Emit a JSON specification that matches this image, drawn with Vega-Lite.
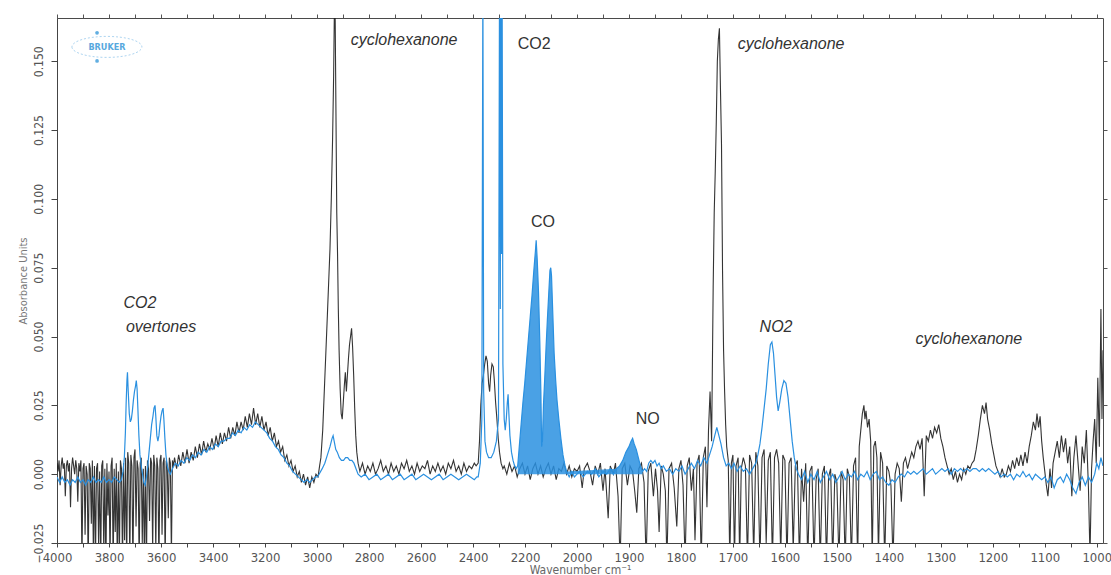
{
  "$schema": "https://vega.github.io/schema/vega-lite/v6.json",
  "width": 1046,
  "height": 525,
  "autosize": {"type": "none"},
  "padding": {"left": 57, "top": 18, "right": 8, "bottom": 32},
  "background": "white",
  "config": {
    "view": {"stroke": "#4a4a4a", "strokeWidth": 1},
    "axis": {"grid": false}
  },
  "datasets": {
    "black": [
      {"w":4000,"a":0.004},{"w":3996,"a":0.001},{"w":3992,"a":0.005},{"w":3988,"a":-0.004},{"w":3984,"a":0.003},{"w":3980,"a":0.006},{"w":3976,"a":0.002},{"w":3972,"a":0.004},{"w":3968,"a":-0.008},{"w":3964,"a":0.003},{"w":3960,"a":0.005},{"w":3956,"a":0.001},{"w":3952,"a":0.004},{"w":3948,"a":-0.012},{"w":3944,"a":0.002},{"w":3940,"a":0.006},{"w":3936,"a":0.003},{"w":3932,"a":0.000},{"w":3928,"a":0.005},{"w":3924,"a":0.002},{"w":3920,"a":-0.010},{"w":3916,"a":0.004},{"w":3912,"a":0.001},{"w":3908,"a":0.005},{"w":3904,"a":-0.032},{"w":3900,"a":0.002},{"w":3896,"a":0.004},{"w":3892,"a":-0.022},{"w":3888,"a":0.003},{"w":3884,"a":0.000},{"w":3880,"a":-0.034},{"w":3876,"a":0.004},{"w":3872,"a":0.002},{"w":3868,"a":-0.018},{"w":3864,"a":0.005},{"w":3860,"a":-0.030},{"w":3856,"a":0.003},{"w":3852,"a":-0.032},{"w":3848,"a":0.002},{"w":3844,"a":0.004},{"w":3840,"a":-0.026},{"w":3836,"a":0.001},{"w":3832,"a":-0.034},{"w":3828,"a":0.003},{"w":3824,"a":0.005},{"w":3820,"a":-0.030},{"w":3816,"a":0.002},{"w":3812,"a":-0.035},{"w":3808,"a":0.004},{"w":3804,"a":-0.015},{"w":3800,"a":0.001},{"w":3796,"a":-0.032},{"w":3792,"a":0.003},{"w":3788,"a":0.006},{"w":3784,"a":-0.034},{"w":3780,"a":0.002},{"w":3776,"a":-0.021},{"w":3772,"a":0.004},{"w":3768,"a":-0.033},{"w":3764,"a":0.001},{"w":3760,"a":-0.030},{"w":3756,"a":0.005},{"w":3752,"a":0.002},{"w":3748,"a":-0.034},{"w":3744,"a":0.004},{"w":3740,"a":-0.024},{"w":3736,"a":0.006},{"w":3732,"a":-0.033},{"w":3728,"a":0.008},{"w":3724,"a":0.004},{"w":3720,"a":-0.032},{"w":3716,"a":0.007},{"w":3712,"a":0.003},{"w":3708,"a":-0.035},{"w":3704,"a":0.006},{"w":3700,"a":0.009},{"w":3696,"a":-0.019},{"w":3692,"a":0.005},{"w":3688,"a":0.002},{"w":3684,"a":-0.033},{"w":3680,"a":0.004},{"w":3676,"a":0.006},{"w":3672,"a":-0.025},{"w":3668,"a":0.002},{"w":3664,"a":-0.031},{"w":3660,"a":0.003},{"w":3656,"a":-0.034},{"w":3652,"a":0.005},{"w":3648,"a":0.002},{"w":3644,"a":-0.017},{"w":3640,"a":0.006},{"w":3636,"a":0.004},{"w":3632,"a":-0.028},{"w":3628,"a":0.007},{"w":3624,"a":0.003},{"w":3620,"a":-0.028},{"w":3616,"a":0.006},{"w":3612,"a":0.002},{"w":3608,"a":-0.034},{"w":3604,"a":0.005},{"w":3600,"a":0.007},{"w":3596,"a":-0.022},{"w":3592,"a":0.004},{"w":3588,"a":0.006},{"w":3584,"a":-0.033},{"w":3580,"a":0.005},{"w":3576,"a":0.003},{"w":3572,"a":-0.016},{"w":3568,"a":0.006},{"w":3564,"a":0.004},{"w":3560,"a":-0.030},{"w":3556,"a":0.005},{"w":3552,"a":0.003},
      {"w":3548,"a":0.006},{"w":3540,"a":0.002},{"w":3532,"a":0.007},{"w":3524,"a":0.003},{"w":3516,"a":0.008},{"w":3508,"a":0.004},{"w":3500,"a":0.009},{"w":3492,"a":0.004},{"w":3484,"a":0.008},{"w":3476,"a":0.005},{"w":3468,"a":0.010},{"w":3460,"a":0.006},{"w":3452,"a":0.011},{"w":3444,"a":0.007},{"w":3436,"a":0.012},{"w":3428,"a":0.008},{"w":3420,"a":0.011},{"w":3412,"a":0.009},{"w":3404,"a":0.013},{"w":3396,"a":0.009},{"w":3388,"a":0.014},{"w":3380,"a":0.010},{"w":3372,"a":0.015},{"w":3364,"a":0.011},{"w":3356,"a":0.015},{"w":3348,"a":0.012},{"w":3340,"a":0.017},{"w":3332,"a":0.013},{"w":3324,"a":0.017},{"w":3316,"a":0.014},{"w":3308,"a":0.019},{"w":3300,"a":0.015},{"w":3292,"a":0.019},{"w":3284,"a":0.016},{"w":3276,"a":0.021},{"w":3268,"a":0.017},{"w":3260,"a":0.022},{"w":3252,"a":0.018},{"w":3244,"a":0.024},{"w":3236,"a":0.018},{"w":3228,"a":0.022},{"w":3220,"a":0.017},{"w":3212,"a":0.021},{"w":3204,"a":0.016},{"w":3196,"a":0.019},{"w":3188,"a":0.014},{"w":3180,"a":0.017},{"w":3172,"a":0.012},{"w":3164,"a":0.015},{"w":3156,"a":0.010},{"w":3148,"a":0.012},{"w":3140,"a":0.008},{"w":3132,"a":0.010},{"w":3124,"a":0.005},{"w":3116,"a":0.007},{"w":3108,"a":0.003},{"w":3100,"a":0.005},{"w":3092,"a":0.001},{"w":3084,"a":0.003},{"w":3076,"a":-0.001},{"w":3068,"a":0.001},{"w":3060,"a":-0.003},{"w":3052,"a":0.000},{"w":3044,"a":-0.004},{"w":3036,"a":-0.001},{"w":3028,"a":-0.005},{"w":3020,"a":-0.001},{"w":3012,"a":-0.003},{"w":3004,"a":0.000},{"w":2996,"a":-0.001},{"w":2990,"a":0.003},
      {"w":2985,"a":0.006},{"w":2978,"a":0.016},{"w":2972,"a":0.030},{"w":2966,"a":0.044},{"w":2960,"a":0.058},{"w":2955,"a":0.070},{"w":2950,"a":0.082},{"w":2945,"a":0.100},{"w":2940,"a":0.122},{"w":2936,"a":0.145},{"w":2933,"a":0.170},{"w":2930,"a":0.165},{"w":2927,"a":0.130},{"w":2924,"a":0.095},{"w":2921,"a":0.080},{"w":2918,"a":0.060},{"w":2915,"a":0.045},{"w":2911,"a":0.031},{"w":2907,"a":0.022},{"w":2903,"a":0.020},{"w":2899,"a":0.026},{"w":2895,"a":0.032},{"w":2891,"a":0.037},{"w":2887,"a":0.030},{"w":2883,"a":0.036},{"w":2879,"a":0.042},{"w":2875,"a":0.047},{"w":2871,"a":0.050},{"w":2867,"a":0.053},{"w":2863,"a":0.046},{"w":2859,"a":0.036},{"w":2855,"a":0.024},{"w":2851,"a":0.014},{"w":2847,"a":0.008},{"w":2842,"a":0.004},
      {"w":2835,"a":0.001},{"w":2825,"a":0.004},{"w":2815,"a":0.000},{"w":2805,"a":0.003},{"w":2795,"a":0.001},{"w":2785,"a":0.004},{"w":2775,"a":0.000},{"w":2765,"a":0.002},{"w":2755,"a":0.005},{"w":2745,"a":0.001},{"w":2735,"a":0.003},{"w":2725,"a":0.000},{"w":2715,"a":0.004},{"w":2705,"a":0.001},{"w":2695,"a":0.003},{"w":2685,"a":0.000},{"w":2675,"a":0.004},{"w":2665,"a":0.002},{"w":2655,"a":0.005},{"w":2645,"a":0.001},{"w":2635,"a":0.003},{"w":2625,"a":0.000},{"w":2615,"a":0.004},{"w":2605,"a":0.001},{"w":2595,"a":0.003},{"w":2585,"a":0.002},{"w":2575,"a":0.005},{"w":2565,"a":0.000},{"w":2555,"a":0.003},{"w":2545,"a":0.001},{"w":2535,"a":0.004},{"w":2525,"a":0.001},{"w":2515,"a":0.003},{"w":2505,"a":0.000},{"w":2495,"a":0.004},{"w":2485,"a":0.002},{"w":2475,"a":0.005},{"w":2465,"a":0.001},{"w":2455,"a":0.003},{"w":2445,"a":0.000},{"w":2435,"a":0.004},{"w":2425,"a":0.001},{"w":2415,"a":0.003},{"w":2405,"a":0.002},{"w":2395,"a":0.004},{"w":2388,"a":0.003},
      {"w":2380,"a":0.004},{"w":2375,"a":0.012},{"w":2370,"a":0.025},{"w":2365,"a":0.033},{"w":2360,"a":0.036},{"w":2355,"a":0.040},{"w":2350,"a":0.043},{"w":2345,"a":0.041},{"w":2340,"a":0.033},{"w":2336,"a":0.030},{"w":2332,"a":0.036},{"w":2327,"a":0.040},{"w":2322,"a":0.039},{"w":2318,"a":0.034},{"w":2313,"a":0.026},{"w":2308,"a":0.020},{"w":2303,"a":0.013},{"w":2298,"a":0.008},{"w":2292,"a":0.004},{"w":2285,"a":0.002},
      {"w":2280,"a":0.003},{"w":2270,"a":0.000},{"w":2260,"a":0.004},{"w":2250,"a":0.001},{"w":2240,"a":0.003},{"w":2230,"a":-0.001},{"w":2220,"a":0.002},{"w":2210,"a":0.004},{"w":2200,"a":0.000},{"w":2190,"a":0.003},{"w":2180,"a":-0.002},{"w":2170,"a":0.002},{"w":2160,"a":0.004},{"w":2150,"a":0.000},{"w":2140,"a":0.003},{"w":2130,"a":-0.001},{"w":2120,"a":0.002},{"w":2110,"a":0.004},{"w":2100,"a":0.000},{"w":2090,"a":0.003},{"w":2080,"a":-0.002},{"w":2070,"a":0.002},{"w":2060,"a":0.001},{"w":2050,"a":0.004},{"w":2040,"a":0.000},{"w":2030,"a":0.003},{"w":2020,"a":-0.001},{"w":2010,"a":0.002},{"w":2000,"a":0.001},
      {"w":1995,"a":0.003},{"w":1990,"a":-0.005},{"w":1986,"a":0.002},{"w":1980,"a":0.004},{"w":1975,"a":0.001},{"w":1970,"a":-0.004},{"w":1965,"a":0.003},{"w":1960,"a":0.000},{"w":1955,"a":0.004},{"w":1950,"a":-0.006},{"w":1946,"a":0.002},{"w":1940,"a":-0.016},{"w":1936,"a":0.003},{"w":1930,"a":0.000},{"w":1926,"a":0.004},{"w":1921,"a":-0.008},{"w":1917,"a":-0.032},{"w":1913,"a":0.002},{"w":1908,"a":0.004},{"w":1903,"a":-0.004},{"w":1898,"a":0.003},{"w":1893,"a":0.001},{"w":1889,"a":-0.006},{"w":1885,"a":-0.014},{"w":1881,"a":0.002},{"w":1876,"a":0.004},{"w":1871,"a":-0.003},{"w":1867,"a":-0.032},{"w":1863,"a":0.001},{"w":1858,"a":0.004},{"w":1853,"a":-0.008},{"w":1849,"a":0.002},{"w":1845,"a":-0.006},{"w":1842,"a":-0.021},{"w":1838,"a":0.003},{"w":1834,"a":0.000},{"w":1830,"a":-0.006},{"w":1827,"a":-0.032},{"w":1823,"a":0.002},{"w":1818,"a":0.004},{"w":1813,"a":-0.005},{"w":1808,"a":-0.019},{"w":1804,"a":0.002},{"w":1800,"a":0.005},{"w":1796,"a":-0.004},{"w":1792,"a":-0.032},{"w":1788,"a":0.003},{"w":1784,"a":0.006},{"w":1780,"a":-0.006},{"w":1776,"a":0.002},{"w":1773,"a":-0.024},{"w":1769,"a":0.004},{"w":1765,"a":0.007},{"w":1761,"a":-0.032},{"w":1757,"a":0.006},{"w":1753,"a":0.010},{"w":1750,"a":-0.012},{"w":1747,"a":0.016},{"w":1744,"a":0.030},{"w":1741,"a":0.012},{"w":1738,"a":0.068},{"w":1736,"a":0.095},{"w":1734,"a":0.110},{"w":1732,"a":0.128},{"w":1730,"a":0.150},{"w":1728,"a":0.158},{"w":1726,"a":0.162},{"w":1724,"a":0.140},{"w":1722,"a":0.120},{"w":1720,"a":0.074},{"w":1718,"a":0.045},{"w":1716,"a":0.030},{"w":1714,"a":0.018},{"w":1712,"a":0.010},{"w":1709,"a":0.005},{"w":1706,"a":-0.032},{"w":1703,"a":0.004},{"w":1700,"a":0.007},{"w":1697,"a":-0.032},{"w":1694,"a":0.003},{"w":1690,"a":0.006},{"w":1687,"a":-0.032},{"w":1684,"a":0.002},
      {"w":1680,"a":0.006},{"w":1676,"a":0.003},{"w":1672,"a":-0.032},{"w":1668,"a":0.007},{"w":1664,"a":0.004},{"w":1660,"a":-0.030},{"w":1656,"a":0.008},{"w":1652,"a":0.003},{"w":1648,"a":-0.032},{"w":1644,"a":0.006},{"w":1640,"a":0.009},{"w":1636,"a":-0.025},{"w":1632,"a":0.005},{"w":1628,"a":0.008},{"w":1624,"a":-0.032},{"w":1620,"a":0.006},{"w":1616,"a":0.009},{"w":1612,"a":0.004},{"w":1608,"a":-0.030},{"w":1604,"a":0.007},{"w":1600,"a":0.005},{"w":1596,"a":-0.032},{"w":1592,"a":0.004},{"w":1588,"a":0.006},{"w":1584,"a":-0.028},{"w":1580,"a":0.003},{"w":1576,"a":0.005},{"w":1572,"a":-0.032},{"w":1568,"a":0.002},{"w":1564,"a":-0.010},{"w":1560,"a":0.004},{"w":1556,"a":-0.032},{"w":1552,"a":0.001},{"w":1548,"a":0.003},{"w":1544,"a":-0.032},{"w":1540,"a":-0.002},{"w":1536,"a":0.002},{"w":1532,"a":-0.032},{"w":1528,"a":0.000},{"w":1524,"a":0.003},{"w":1520,"a":-0.032},{"w":1516,"a":-0.001},{"w":1512,"a":0.002},{"w":1508,"a":-0.032},{"w":1504,"a":0.000},{"w":1500,"a":-0.003},{"w":1496,"a":-0.032},{"w":1492,"a":0.001},{"w":1488,"a":-0.002},{"w":1484,"a":-0.032},{"w":1480,"a":0.002},{"w":1476,"a":-0.001},{"w":1472,"a":-0.032},{"w":1468,"a":0.003},{"w":1464,"a":0.006},{"w":1460,"a":-0.032},{"w":1457,"a":0.010},{"w":1454,"a":0.016},{"w":1451,"a":0.022},{"w":1448,"a":0.025},{"w":1446,"a":0.020},{"w":1444,"a":0.023},{"w":1441,"a":0.017},{"w":1438,"a":0.020},{"w":1435,"a":0.012},{"w":1432,"a":-0.032},{"w":1429,"a":0.010},{"w":1426,"a":0.012},{"w":1423,"a":0.006},{"w":1420,"a":-0.030},{"w":1416,"a":0.008},{"w":1412,"a":0.004},{"w":1408,"a":-0.032},{"w":1404,"a":0.003},{"w":1400,"a":0.001},{"w":1396,"a":-0.004},{"w":1392,"a":-0.032},{"w":1388,"a":0.000},{"w":1384,"a":0.004},{"w":1380,"a":0.002},
      {"w":1376,"a":-0.010},{"w":1372,"a":0.004},{"w":1368,"a":0.006},{"w":1364,"a":0.002},{"w":1360,"a":0.005},{"w":1356,"a":0.008},{"w":1352,"a":0.006},{"w":1348,"a":0.010},{"w":1344,"a":0.012},{"w":1340,"a":0.009},{"w":1336,"a":0.013},{"w":1332,"a":-0.008},{"w":1328,"a":0.014},{"w":1324,"a":0.012},{"w":1320,"a":0.016},{"w":1316,"a":0.013},{"w":1312,"a":0.017},{"w":1308,"a":0.015},{"w":1304,"a":0.018},{"w":1300,"a":0.013},{"w":1296,"a":0.010},{"w":1292,"a":0.006},{"w":1288,"a":0.003},{"w":1284,"a":0.000},{"w":1280,"a":0.002},{"w":1276,"a":-0.002},{"w":1272,"a":0.001},{"w":1268,"a":-0.003},{"w":1264,"a":0.000},{"w":1260,"a":-0.002},{"w":1256,"a":0.002},{"w":1252,"a":0.000},{"w":1248,"a":0.003},{"w":1244,"a":0.002},{"w":1240,"a":0.004},{"w":1236,"a":0.005},{"w":1232,"a":0.009},{"w":1228,"a":0.014},{"w":1224,"a":0.020},{"w":1220,"a":0.025},{"w":1216,"a":0.022},{"w":1213,"a":0.026},{"w":1210,"a":0.020},{"w":1206,"a":0.016},{"w":1202,"a":0.011},{"w":1198,"a":0.007},{"w":1194,"a":0.003},{"w":1190,"a":0.001},{"w":1186,"a":-0.001},{"w":1182,"a":0.002},{"w":1178,"a":-0.001},{"w":1174,"a":0.000},{"w":1170,"a":0.003},{"w":1166,"a":0.001},{"w":1162,"a":0.005},{"w":1158,"a":0.002},{"w":1154,"a":0.006},{"w":1150,"a":0.003},{"w":1146,"a":0.007},{"w":1142,"a":0.003},{"w":1138,"a":0.008},{"w":1134,"a":0.004},{"w":1130,"a":0.010},{"w":1126,"a":0.014},{"w":1122,"a":0.019},{"w":1118,"a":0.016},{"w":1115,"a":0.022},{"w":1112,"a":0.017},{"w":1109,"a":0.021},{"w":1106,"a":0.012},{"w":1103,"a":0.006},{"w":1100,"a":0.001},{"w":1097,"a":-0.004},{"w":1094,"a":-0.008},{"w":1090,"a":0.002},{"w":1087,"a":-0.005},{"w":1084,"a":0.004},{"w":1080,"a":0.008},{"w":1076,"a":0.012},{"w":1072,"a":0.006},{"w":1068,"a":0.014},{"w":1064,"a":0.008},{"w":1060,"a":0.013},{"w":1056,"a":0.004},{"w":1052,"a":0.010},{"w":1048,"a":-0.008},{"w":1044,"a":0.006},{"w":1040,"a":0.014},{"w":1036,"a":0.004},{"w":1032,"a":-0.006},{"w":1028,"a":0.010},{"w":1024,"a":0.004},{"w":1020,"a":0.016},{"w":1016,"a":-0.005},{"w":1013,"a":-0.030},{"w":1010,"a":0.002},{"w":1007,"a":0.012},{"w":1004,"a":0.020},{"w":1001,"a":0.004},{"w":998,"a":0.035},{"w":995,"a":0.010},{"w":992,"a":0.060},{"w":990,"a":0.020},{"w":988,"a":0.045}
    ],
    "blue": [
      {"w":4000,"a":-0.001},{"w":3990,"a":-0.003},{"w":3980,"a":-0.001},{"w":3970,"a":-0.003},{"w":3960,"a":-0.002},{"w":3950,"a":-0.004},{"w":3940,"a":-0.002},{"w":3930,"a":-0.003},{"w":3920,"a":-0.001},{"w":3910,"a":-0.003},{"w":3900,"a":-0.002},{"w":3890,"a":-0.004},{"w":3880,"a":-0.002},{"w":3870,"a":-0.003},{"w":3860,"a":-0.001},{"w":3850,"a":-0.003},{"w":3840,"a":-0.002},{"w":3830,"a":-0.003},{"w":3820,"a":-0.001},{"w":3810,"a":-0.003},{"w":3800,"a":-0.002},{"w":3790,"a":-0.003},{"w":3780,"a":-0.001},{"w":3770,"a":-0.002},{"w":3760,"a":-0.003},
      {"w":3752,"a":-0.002},{"w":3746,"a":0.001},{"w":3741,"a":0.006},{"w":3737,"a":0.015},{"w":3734,"a":0.026},{"w":3731,"a":0.034},{"w":3729,"a":0.037},{"w":3726,"a":0.030},{"w":3722,"a":0.022},{"w":3718,"a":0.019},{"w":3714,"a":0.020},{"w":3710,"a":0.023},{"w":3706,"a":0.027},{"w":3702,"a":0.030},{"w":3698,"a":0.032},{"w":3695,"a":0.034},{"w":3692,"a":0.031},{"w":3689,"a":0.024},{"w":3685,"a":0.014},{"w":3681,"a":0.007},{"w":3676,"a":0.003},{"w":3671,"a":0.000},{"w":3666,"a":-0.003},{"w":3661,"a":-0.004},{"w":3656,"a":-0.001},{"w":3651,"a":0.003},{"w":3646,"a":0.008},{"w":3641,"a":0.013},{"w":3636,"a":0.018},{"w":3631,"a":0.021},{"w":3627,"a":0.024},{"w":3623,"a":0.025},{"w":3620,"a":0.021},{"w":3616,"a":0.014},{"w":3612,"a":0.012},{"w":3608,"a":0.014},{"w":3604,"a":0.018},{"w":3600,"a":0.021},{"w":3596,"a":0.023},{"w":3592,"a":0.024},{"w":3589,"a":0.020},{"w":3585,"a":0.013},{"w":3581,"a":0.007},{"w":3576,"a":0.003},{"w":3570,"a":0.001},{"w":3564,"a":0.000},
      {"w":3556,"a":0.002},{"w":3545,"a":0.004},{"w":3534,"a":0.003},{"w":3523,"a":0.005},{"w":3512,"a":0.004},{"w":3501,"a":0.006},{"w":3490,"a":0.005},{"w":3479,"a":0.007},{"w":3468,"a":0.006},{"w":3457,"a":0.008},{"w":3446,"a":0.007},{"w":3435,"a":0.009},{"w":3424,"a":0.008},{"w":3413,"a":0.010},{"w":3402,"a":0.009},{"w":3391,"a":0.011},{"w":3380,"a":0.010},{"w":3369,"a":0.012},{"w":3358,"a":0.012},{"w":3347,"a":0.013},{"w":3336,"a":0.013},{"w":3325,"a":0.015},{"w":3314,"a":0.014},{"w":3303,"a":0.016},{"w":3292,"a":0.015},{"w":3281,"a":0.017},{"w":3270,"a":0.016},{"w":3259,"a":0.018},{"w":3248,"a":0.017},{"w":3237,"a":0.019},{"w":3226,"a":0.018},{"w":3215,"a":0.017},{"w":3204,"a":0.016},{"w":3193,"a":0.015},{"w":3182,"a":0.013},{"w":3171,"a":0.012},{"w":3160,"a":0.010},{"w":3149,"a":0.009},{"w":3138,"a":0.007},{"w":3127,"a":0.006},{"w":3116,"a":0.004},{"w":3105,"a":0.003},{"w":3094,"a":0.001},{"w":3083,"a":0.000},{"w":3072,"a":-0.001},{"w":3061,"a":-0.002},{"w":3050,"a":-0.003},{"w":3039,"a":-0.002},{"w":3028,"a":-0.003},{"w":3017,"a":-0.002},{"w":3006,"a":-0.001},{"w":2998,"a":-0.001},
      {"w":2992,"a":0.000},{"w":2980,"a":0.002},{"w":2970,"a":0.004},{"w":2960,"a":0.007},{"w":2950,"a":0.010},{"w":2942,"a":0.013},{"w":2938,"a":0.014},{"w":2934,"a":0.012},{"w":2928,"a":0.009},{"w":2922,"a":0.008},{"w":2914,"a":0.006},{"w":2906,"a":0.005},{"w":2898,"a":0.005},{"w":2890,"a":0.006},{"w":2882,"a":0.006},{"w":2874,"a":0.005},{"w":2866,"a":0.005},{"w":2858,"a":0.004},{"w":2850,"a":0.002},{"w":2842,"a":0.000},
      {"w":2830,"a":-0.001},{"w":2815,"a":0.000},{"w":2800,"a":-0.002},{"w":2785,"a":-0.001},{"w":2770,"a":0.000},{"w":2755,"a":-0.002},{"w":2740,"a":-0.001},{"w":2725,"a":0.000},{"w":2710,"a":-0.002},{"w":2695,"a":-0.001},{"w":2680,"a":0.000},{"w":2665,"a":-0.002},{"w":2650,"a":-0.001},{"w":2635,"a":0.000},{"w":2620,"a":-0.002},{"w":2605,"a":-0.001},{"w":2590,"a":0.000},{"w":2575,"a":-0.001},{"w":2560,"a":-0.002},{"w":2545,"a":-0.001},{"w":2530,"a":0.000},{"w":2515,"a":-0.002},{"w":2500,"a":-0.001},{"w":2485,"a":0.000},{"w":2470,"a":-0.001},{"w":2455,"a":-0.002},{"w":2440,"a":-0.001},{"w":2425,"a":0.000},{"w":2410,"a":-0.001},{"w":2395,"a":-0.002},{"w":2385,"a":-0.001},
      {"w":2380,"a":-0.001},{"w":2372,"a":0.004},{"w":2366,"a":0.020},{"w":2362,"a":0.180},{"w":2359,"a":0.030},{"w":2354,"a":0.012},{"w":2348,"a":0.008},{"w":2340,"a":0.006},{"w":2330,"a":0.006},{"w":2320,"a":0.008},{"w":2310,"a":0.012},{"w":2302,"a":0.020},{"w":2298,"a":0.180},{"w":2295,"a":0.060},{"w":2293,"a":0.180},{"w":2290,"a":0.080},{"w":2288,"a":0.180},{"w":2285,"a":0.040},{"w":2280,"a":0.020},{"w":2276,"a":0.016},{"w":2272,"a":0.020},{"w":2268,"a":0.026},{"w":2265,"a":0.029},{"w":2262,"a":0.022},{"w":2258,"a":0.014},{"w":2252,"a":0.008},{"w":2246,"a":0.005},{"w":2240,"a":0.003},{"w":2234,"a":0.002},{"w":2228,"a":0.003},
      {"w":2222,"a":0.010},{"w":2215,"a":0.018},{"w":2208,"a":0.026},{"w":2201,"a":0.033},{"w":2194,"a":0.041},{"w":2187,"a":0.049},{"w":2180,"a":0.057},{"w":2173,"a":0.065},{"w":2166,"a":0.074},{"w":2160,"a":0.081},{"w":2157,"a":0.085},{"w":2153,"a":0.078},{"w":2148,"a":0.066},{"w":2143,"a":0.048},{"w":2139,"a":0.030},{"w":2136,"a":0.010},{"w":2133,"a":0.012},{"w":2129,"a":0.025},{"w":2124,"a":0.035},{"w":2119,"a":0.046},{"w":2114,"a":0.056},{"w":2109,"a":0.065},{"w":2104,"a":0.074},{"w":2101,"a":0.075},{"w":2098,"a":0.072},{"w":2093,"a":0.058},{"w":2088,"a":0.044},{"w":2082,"a":0.034},{"w":2077,"a":0.027},{"w":2070,"a":0.020},{"w":2062,"a":0.013},{"w":2054,"a":0.007},{"w":2046,"a":0.003},{"w":2040,"a":0.001},{"w":2030,"a":-0.001},{"w":2020,"a":0.001},{"w":2010,"a":-0.001},{"w":2000,"a":0.000},
      {"w":1995,"a":0.001},{"w":1988,"a":-0.001},{"w":1980,"a":0.001},{"w":1972,"a":0.000},{"w":1965,"a":0.002},{"w":1958,"a":-0.001},{"w":1950,"a":0.001},{"w":1943,"a":0.000},{"w":1936,"a":0.002},{"w":1930,"a":0.000},{"w":1924,"a":0.002},{"w":1918,"a":0.003},{"w":1912,"a":0.005},{"w":1906,"a":0.008},{"w":1900,"a":0.010},{"w":1896,"a":0.012},{"w":1893,"a":0.013},{"w":1890,"a":0.011},{"w":1886,"a":0.009},{"w":1882,"a":0.006},{"w":1878,"a":0.003},{"w":1874,"a":0.001},{"w":1870,"a":0.002},{"w":1866,"a":0.001},{"w":1862,"a":0.004},{"w":1858,"a":0.005},{"w":1854,"a":0.004},{"w":1850,"a":0.005},{"w":1846,"a":0.003},{"w":1842,"a":0.004},{"w":1838,"a":0.002},{"w":1834,"a":0.003},{"w":1828,"a":0.001},{"w":1822,"a":0.002},{"w":1816,"a":0.000},{"w":1810,"a":0.002},{"w":1804,"a":0.001},{"w":1798,"a":0.003},{"w":1792,"a":0.000},{"w":1786,"a":0.002},{"w":1780,"a":0.004},{"w":1774,"a":0.002},{"w":1768,"a":0.005},{"w":1762,"a":0.003},{"w":1756,"a":0.006},{"w":1750,"a":0.004},{"w":1745,"a":0.007},{"w":1740,"a":0.010},{"w":1735,"a":0.014},{"w":1731,"a":0.017},{"w":1727,"a":0.014},{"w":1723,"a":0.011},{"w":1718,"a":0.006},{"w":1713,"a":0.003},{"w":1708,"a":0.004},{"w":1703,"a":0.002},{"w":1698,"a":0.004},{"w":1692,"a":0.001},{"w":1686,"a":0.003},{"w":1680,"a":0.001},{"w":1674,"a":0.002},{"w":1668,"a":0.000},{"w":1662,"a":0.002},{"w":1656,"a":0.004},{"w":1652,"a":0.007},{"w":1648,"a":0.011},{"w":1644,"a":0.017},{"w":1640,"a":0.024},{"w":1636,"a":0.031},{"w":1632,"a":0.040},{"w":1628,"a":0.047},{"w":1625,"a":0.048},{"w":1622,"a":0.044},{"w":1619,"a":0.036},{"w":1616,"a":0.028},{"w":1613,"a":0.023},{"w":1610,"a":0.026},{"w":1606,"a":0.031},{"w":1602,"a":0.034},{"w":1598,"a":0.033},{"w":1594,"a":0.028},{"w":1590,"a":0.020},{"w":1586,"a":0.012},{"w":1582,"a":0.006},{"w":1578,"a":0.002},
      {"w":1574,"a":0.000},{"w":1568,"a":-0.002},{"w":1562,"a":0.001},{"w":1556,"a":-0.003},{"w":1550,"a":0.000},{"w":1544,"a":-0.002},{"w":1538,"a":0.001},{"w":1532,"a":-0.003},{"w":1526,"a":-0.001},{"w":1520,"a":0.001},{"w":1514,"a":-0.002},{"w":1508,"a":0.000},{"w":1502,"a":-0.003},{"w":1496,"a":-0.001},{"w":1490,"a":0.001},{"w":1484,"a":-0.002},{"w":1478,"a":0.000},{"w":1472,"a":-0.001},{"w":1466,"a":0.001},{"w":1460,"a":-0.002},{"w":1454,"a":0.000},{"w":1448,"a":-0.001},{"w":1442,"a":0.001},{"w":1436,"a":-0.002},{"w":1430,"a":0.000},{"w":1424,"a":0.001},{"w":1418,"a":-0.002},{"w":1412,"a":-0.001},{"w":1406,"a":-0.003},{"w":1400,"a":-0.004},{"w":1394,"a":-0.002},{"w":1388,"a":-0.003},{"w":1382,"a":-0.001},{"w":1376,"a":0.000},{"w":1370,"a":-0.001},{"w":1364,"a":0.001},{"w":1358,"a":0.000},{"w":1352,"a":0.001},{"w":1346,"a":0.000},{"w":1340,"a":0.001},{"w":1334,"a":0.002},{"w":1328,"a":0.000},{"w":1322,"a":0.001},{"w":1316,"a":0.002},{"w":1310,"a":0.000},{"w":1304,"a":0.001},{"w":1298,"a":0.002},{"w":1292,"a":0.001},{"w":1286,"a":0.002},{"w":1280,"a":0.000},{"w":1274,"a":0.002},{"w":1268,"a":0.001},{"w":1262,"a":0.002},{"w":1256,"a":0.001},{"w":1250,"a":0.002},{"w":1244,"a":0.001},{"w":1238,"a":0.002},{"w":1232,"a":0.002},{"w":1226,"a":0.001},{"w":1220,"a":0.002},{"w":1214,"a":0.001},{"w":1208,"a":0.002},{"w":1202,"a":0.001},{"w":1196,"a":0.000},{"w":1190,"a":0.001},{"w":1184,"a":-0.001},{"w":1178,"a":0.000},{"w":1172,"a":-0.001},{"w":1166,"a":0.000},{"w":1160,"a":-0.002},{"w":1154,"a":0.000},{"w":1148,"a":-0.001},{"w":1142,"a":0.001},{"w":1136,"a":-0.001},{"w":1130,"a":0.000},{"w":1124,"a":-0.002},{"w":1118,"a":0.000},{"w":1112,"a":-0.001},{"w":1106,"a":-0.002},{"w":1100,"a":-0.001},{"w":1094,"a":-0.003},{"w":1088,"a":-0.001},{"w":1082,"a":-0.005},{"w":1076,"a":-0.002},{"w":1070,"a":-0.001},{"w":1064,"a":-0.003},{"w":1058,"a":0.000},{"w":1052,"a":-0.002},{"w":1046,"a":-0.005},{"w":1040,"a":-0.007},{"w":1034,"a":-0.003},{"w":1028,"a":-0.001},{"w":1022,"a":-0.004},{"w":1016,"a":-0.001},{"w":1010,"a":-0.003},{"w":1004,"a":0.000},{"w":1000,"a":0.004},{"w":996,"a":0.002},{"w":992,"a":0.006},{"w":988,"a":0.003}
    ],
    "notes": [
      {"w":2665,"a":0.1578,"t":"cyclohexanone","k":"i"},
      {"w":1588,"a":0.1563,"t":"cyclohexanone","k":"i"},
      {"w":2165,"a":0.1563,"t":"CO2","k":"n"},
      {"w":2131,"a":0.0915,"t":"CO","k":"n"},
      {"w":3681,"a":0.0623,"t":"CO2","k":"i"},
      {"w":3600,"a":0.0536,"t":"overtones","k":"i"},
      {"w":1617,"a":0.0536,"t":"NO2","k":"i"},
      {"w":1246,"a":0.0492,"t":"cyclohexanone","k":"i"},
      {"w":1864,"a":0.0200,"t":"NO","k":"n"}
    ],
    "logo": [
      {"w":3808,"a":0.1552,"t":"BRUKER"}
    ],
    "logodots": [
      {"w":3846,"a":0.1603},
      {"w":3846,"a":0.1501}
    ]
  },
  "layer": [
    {
      "data": {"name": "black"},
      "mark": {"type": "line", "color": "#1e1e1e", "strokeWidth": 1.1, "opacity": 0.9, "clip": true},
      "encoding": {
        "x": {
          "field": "w", "type": "quantitative",
          "scale": {"domain": [4000, 2000, 988], "range": [0, 520, 1046], "nice": false, "zero": false},
          "axis": {
            "orient": "bottom",
            "values": [4000,3900,3800,3700,3600,3500,3400,3300,3200,3100,3000,2900,2800,2700,2600,2500,2400,2300,2200,2100,2000,1950,1900,1850,1800,1750,1700,1650,1600,1550,1500,1450,1400,1350,1300,1250,1200,1150,1100,1050,1000],
            "format": "d",
            "labelExpr": "(datum.value >= 2000 ? datum.value % 200 == 0 : datum.value % 100 == 0) ? datum.label : ''",
            "labelOverlap": false,
            "labelFlush": false,
            "labelFont": "DejaVu Sans Condensed, Liberation Sans Narrow, sans-serif",
            "labelFontSize": 13,
            "labelColor": "#555555",
            "labelPadding": 4,
            "tickColor": "#444444",
            "tickSize": 4,
            "domainColor": "#444444",
            "title": "Wavenumber cm⁻¹",
            "titleFont": "DejaVu Sans Condensed, Liberation Sans Narrow, sans-serif",
            "titleFontSize": 12,
            "titleFontWeight": "normal",
            "titleColor": "#666666",
            "titlePadding": 0
          }
        },
        "y": {
          "field": "a", "type": "quantitative",
          "scale": {"domain": [-0.025, 0.1657], "nice": false, "zero": false},
          "axis": {
            "orient": "left",
            "values": [-0.025, 0, 0.025, 0.05, 0.075, 0.1, 0.125, 0.15],
            "format": ".3f",
            "labelAngle": -90,
            "labelAlign": "center",
            "labelBaseline": "bottom",
            "labelFont": "DejaVu Sans Condensed, Liberation Sans Narrow, sans-serif",
            "labelFontSize": 12,
            "labelColor": "#555555",
            "labelPadding": 6,
            "tickColor": "#444444",
            "tickSize": 6,
            "domainColor": "#444444",
            "title": "Absorbance Units",
            "titleFont": "DejaVu Sans Condensed, Liberation Sans Narrow, sans-serif",
            "titleFontSize": 11,
            "titleFontWeight": "normal",
            "titleColor": "#777777",
            "titlePadding": 4
          }
        }
      }
    },
    {
      "data": {"name": "blue"},
      "transform": [{"filter": "(datum.w >= 2040 && datum.w <= 2228) || (datum.w >= 1874 && datum.w <= 1924)"}],
      "mark": {"type": "area", "color": "#2a90e0", "opacity": 0.85, "clip": true},
      "encoding": {
        "x": {"field": "w", "type": "quantitative", "axis": null},
        "y": {"field": "a", "type": "quantitative", "axis": null}
      }
    },
    {
      "data": {"name": "blue"},
      "mark": {"type": "line", "color": "#2a90e0", "strokeWidth": 1.2, "clip": true},
      "encoding": {
        "x": {
          "field": "w", "type": "quantitative",
          "axis": {
            "orient": "top",
            "values": [4000,3900,3800,3700,3600,3500,3400,3300,3200,3100,3000,2900,2800,2700,2600,2500,2400,2300,2200,2100,2000,1950,1900,1850,1800,1750,1700,1650,1600,1550,1500,1450,1400,1350,1300,1250,1200,1150,1100,1050,1000],
            "labels": false, "title": null, "domain": false,
            "tickColor": "#555555", "tickSize": 4
          }
        },
        "y": {
          "field": "a", "type": "quantitative",
          "axis": {
            "orient": "right",
            "values": [-0.025, 0, 0.025, 0.05, 0.075, 0.1, 0.125, 0.15],
            "labels": false, "title": null, "domain": false,
            "tickColor": "#555555", "tickSize": 4
          }
        }
      }
    },
    {
      "data": {"name": "notes"},
      "transform": [{"filter": "datum.k == 'i'"}],
      "mark": {"type": "text", "font": "Liberation Sans", "fontSize": 16, "fontStyle": "italic", "color": "#333333", "baseline": "middle", "align": "center"},
      "encoding": {
        "x": {"field": "w", "type": "quantitative", "axis": null},
        "y": {"field": "a", "type": "quantitative", "axis": null},
        "text": {"field": "t"}
      }
    },
    {
      "data": {"name": "notes"},
      "transform": [{"filter": "datum.k == 'n'"}],
      "mark": {"type": "text", "font": "Liberation Sans", "fontSize": 16, "color": "#333333", "baseline": "middle", "align": "center"},
      "encoding": {
        "x": {"field": "w", "type": "quantitative", "axis": null},
        "y": {"field": "a", "type": "quantitative", "axis": null},
        "text": {"field": "t"}
      }
    },
    {
      "data": {"name": "logo"},
      "mark": {"type": "point", "shape": "M -1 0 A 1 0.3 0 1 0 1 0 A 1 0.3 0 1 0 -1 0 Z", "size": 4900, "filled": false, "stroke": "#8cc4ec", "strokeWidth": 1, "strokeDash": [2, 2], "opacity": 0.7},
      "encoding": {
        "x": {"field": "w", "type": "quantitative", "axis": null},
        "y": {"field": "a", "type": "quantitative", "axis": null}
      }
    },
    {
      "data": {"name": "logodots"},
      "mark": {"type": "point", "shape": "circle", "size": 14, "filled": true, "color": "#3a9ad9", "opacity": 0.8},
      "encoding": {
        "x": {"field": "w", "type": "quantitative", "axis": null},
        "y": {"field": "a", "type": "quantitative", "axis": null}
      }
    },
    {
      "data": {"name": "logo"},
      "mark": {"type": "text", "font": "DejaVu Sans Condensed", "fontSize": 9, "fontWeight": "bold", "letterSpacing": 6, "color": "#3a9ad9", "baseline": "middle", "align": "center", "opacity": 0.85},
      "encoding": {
        "x": {"field": "w", "type": "quantitative", "axis": null},
        "y": {"field": "a", "type": "quantitative", "axis": null},
        "text": {"field": "t"}
      }
    }
  ],
  "resolve": {"axis": {"x": "independent", "y": "independent"}}
}
